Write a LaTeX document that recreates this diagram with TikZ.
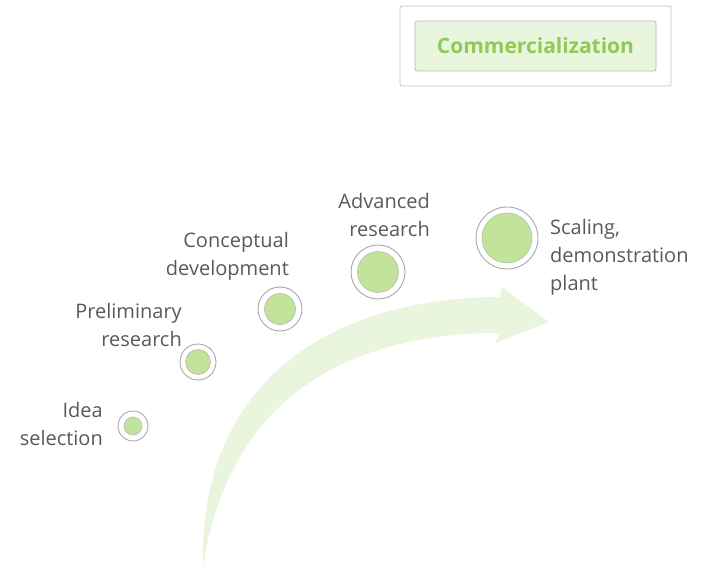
\documentclass[tikz,border=0pt]{standalone}
\usepackage{xcolor}
\usepackage{fontspec}
\setmainfont{Open Sans}
\usepackage{tikz}
\usetikzlibrary{positioning}
\definecolor{stagegreen}{HTML}{C2E39A}
\definecolor{palegreen}{HTML}{E9F5DD}
\definecolor{ringgray}{HTML}{A8A8A8}
\definecolor{labelgray}{HTML}{5E5852}
\definecolor{titlegreen}{HTML}{8DCB55}
\tikzset{every node/.style={align=center}}

\begin{document}
\begin{tikzpicture}[
    x=1pt, y=-1pt,
    ring/.style={circle, draw=ringgray, line width=0.9pt, fill=white, inner sep=0pt},
    dot/.style={circle, draw=ringgray!80, line width=0.6pt, fill=stagegreen, inner sep=0pt},
    lbl/.style={font=\fontsize{20}{28}\selectfont, text=labelgray, inner sep=0pt}
]
  \useasboundingbox (0,0) rectangle (712,569);
  % Growth arrow
  \fill[palegreen] (203,567) .. controls (198,390) and (320,298) .. (500,297)
      -- (502,287) -- (549,322) -- (495,343) -- (500,333)
      .. controls (345,333) and (228,400) .. (203,567) -- cycle;
  % Commercialization box
  \node (outer) at (535.5,46) [draw=ringgray!70, line width=0.8pt, rounded corners=2pt, minimum width=271pt, minimum height=80pt] {};
  \node (comm)  at (535.5,46) [draw=ringgray!80, line width=0.8pt, fill=palegreen, rounded corners=2pt, minimum width=241pt, minimum height=50pt,
      font=\fontsize{21}{24}\selectfont\bfseries, text=titlegreen] {Commercialization};
  % Stages
  \foreach \name/\x/\y/\ro/\ri in {idea/133/426/15/9, prelim/198/362/18/12.5, concept/280/309/22/15.5, adv/378/272/27/20.5, scale/507/238/31/25}{
      \node (\name ring) at (\x,\y) [ring, minimum size=2*\ro pt] {};
      \node (\name)      at (\x,\y) [dot,  minimum size=2*\ri pt] {};
  }
  % Labels
  \node (ideatxt)    at (103,424) [lbl, anchor=east, align=right] {Idea\\selection};
  \node (prelimtxt)  at (182,325) [lbl, anchor=east, align=right] {Preliminary\\research};
  \node (concepttxt) at (289,256) [lbl, anchor=east, align=right] {Conceptual\\development};
  \node (advtxt)     at (430,215) [lbl, anchor=east, align=right] {Advanced\\research};
  \node (scaletxt)   at (550,257) [lbl, anchor=west, align=left] {Scaling,\\demonstration\\plant};
\end{tikzpicture}
\end{document}
